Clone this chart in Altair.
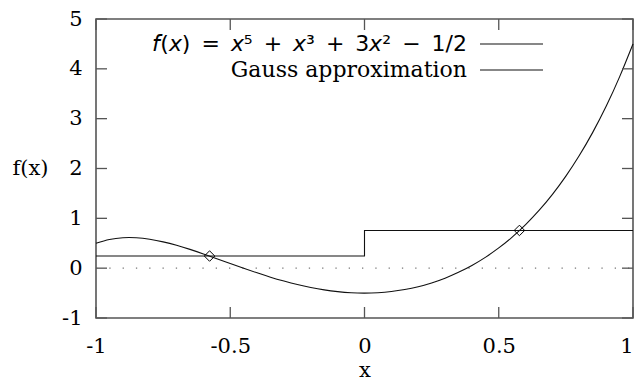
import altair as alt
import pandas as pd

# ---- data ----
curve_x = [-1.0, -0.95, -0.9, -0.85, -0.8, -0.75, -0.7, -0.65, -0.6, -0.55, -0.5,
           -0.45, -0.4, -0.35, -0.3, -0.25, -0.2, -0.15, -0.1, -0.05, 0.0,
           0.05, 0.1, 0.15, 0.2, 0.25, 0.3, 0.35, 0.4, 0.45, 0.5,
           0.55, 0.6, 0.65, 0.7, 0.75, 0.8, 0.85, 0.9, 0.95, 1.0]
curve_y = [0.500, 0.576, 0.611, 0.610, 0.580, 0.528, 0.459, 0.377, 0.286, 0.191, 0.094,
           -0.002, -0.094, -0.181, -0.259, -0.329, -0.388, -0.436, -0.471, -0.493, -0.500,
           -0.492, -0.469, -0.429, -0.372, -0.296, -0.201, -0.084, 0.054, 0.217, 0.406,
           0.624, 0.874, 1.158, 1.481, 1.847, 2.260, 2.725, 3.249, 3.839, 4.500]
gauss_x = [-1.0, 0.0, 1.0]
gauss_y = [0.243, 0.757, 0.757]
node_x = [-0.577, 0.577]
node_y = [0.243, 0.757]
zero_y = [0]
x_ticks = [-1, -0.5, 0, 0.5, 1]
y_ticks = [-1, 0, 1, 2, 3, 4, 5]
legend_labels = ["\U0001D627(\U0001D639)\u2002=\u2002\U0001D639\u2075\u2002+\u2002\U0001D639\u00B3\u2002+\u20023\U0001D639\u00B2\u2002\u2212\u20021/2",
                 "Gauss approximation"]

W, H = 537, 299
SERIF = "DejaVu Serif"
SANS = "DejaVu Sans"
BORDER = "#555555"

xs = alt.Scale(domain=[-1, 1], nice=False, zero=False)
ys = alt.Scale(domain=[-1, 5], nice=False, zero=False)

xaxis = alt.Axis(values=x_ticks, labelExpr="'' + datum.value", title="x",
                 domain=False, ticks=False, grid=False, labelFlush=False, labelOverlap=False,
                 labelAlign={"expr": "datum.value == 1 ? 'right' : 'center'"},
                 labelFont=SERIF, labelFontSize=21, labelColor="black", labelPadding=17,
                 titleFont=SERIF, titleFontSize=21, titleFontWeight="normal", titleColor="black",
                 titleX=W / 2, titleY=62, titleAlign="center", titleBaseline="bottom")
yaxis = alt.Axis(values=y_ticks, labelExpr="'' + datum.value", title="f(x)",
                 domain=False, ticks=False, grid=False, labelFlush=False, labelOverlap=False,
                 labelFont=SERIF, labelFontSize=21, labelColor="black", labelPadding=14,
                 titleFont=SERIF, titleFontSize=21, titleFontWeight="normal", titleColor="black",
                 titleAngle=0, titleX=-66, titleY=149, titleAlign="center", titleBaseline="middle")

curve_df = pd.DataFrame({"x": curve_x, "y": curve_y})
gauss_df = pd.DataFrame({"x": gauss_x, "y": gauss_y})
node_df = pd.DataFrame({"x": node_x, "y": node_y})
zero_df = pd.DataFrame({"y": zero_y})
xt_df = pd.DataFrame({"x": x_ticks})
yt_df = pd.DataFrame({"y": y_ticks})
leg1_df = pd.DataFrame({"label": [legend_labels[0]]})
leg2_df = pd.DataFrame({"label": [legend_labels[1]]})

curve = alt.Chart(curve_df).mark_line(color="#111111", strokeWidth=1.1, interpolate="natural").encode(
    x=alt.X("x:Q", scale=xs, axis=xaxis), y=alt.Y("y:Q", scale=ys, axis=yaxis))

gauss = alt.Chart(gauss_df).mark_line(color="#111111", strokeWidth=1.1, interpolate="step-after").encode(
    x=alt.X("x:Q", scale=xs, axis=xaxis), y=alt.Y("y:Q", scale=ys, axis=yaxis))

zero = alt.Chart(zero_df).mark_rule(color="#777777", strokeWidth=1.3, strokeDash=[1.3, 12.0]).encode(
    y=alt.Y("y:Q", scale=ys, axis=yaxis), x=alt.value(0), x2=alt.value(W))

nodes = alt.Chart(node_df).mark_point(shape="diamond", filled=False, size=110, color="black",
                                      strokeWidth=1, opacity=1).encode(
    x=alt.X("x:Q", scale=xs, axis=xaxis), y=alt.Y("y:Q", scale=ys, axis=yaxis))

tick_style = dict(color=BORDER, strokeWidth=1.3)
xt_bottom = alt.Chart(xt_df).mark_rule(**tick_style).encode(
    x=alt.X("x:Q", scale=xs, axis=xaxis), y=alt.value(H), y2=alt.value(H - 11))
xt_top = alt.Chart(xt_df).mark_rule(**tick_style).encode(
    x=alt.X("x:Q", scale=xs, axis=xaxis), y=alt.value(0), y2=alt.value(11))
yt_left = alt.Chart(yt_df).mark_rule(**tick_style).encode(
    y=alt.Y("y:Q", scale=ys, axis=yaxis), x=alt.value(0), x2=alt.value(11))
yt_right = alt.Chart(yt_df).mark_rule(**tick_style).encode(
    y=alt.Y("y:Q", scale=ys, axis=yaxis), x=alt.value(W), x2=alt.value(W - 11))

leg1_text = alt.Chart(leg1_df).mark_text(font=SANS, fontSize=22, align="right", baseline="middle",
                                          color="black").encode(
    text="label:N", x=alt.value(371), y=alt.value(25))
leg2_text = alt.Chart(leg2_df).mark_text(font=SERIF, fontSize=22, align="right", baseline="middle",
                                          color="black").encode(
    text="label:N", x=alt.value(371), y=alt.value(51))
leg1_line = alt.Chart(leg1_df).mark_rule(color="#111111", strokeWidth=1.1).encode(
    x=alt.value(384), x2=alt.value(447), y=alt.value(25))
leg2_line = alt.Chart(leg2_df).mark_rule(color="#111111", strokeWidth=1.1).encode(
    x=alt.value(384), x2=alt.value(447), y=alt.value(51))

chart = alt.layer(
    zero, gauss, curve, nodes, xt_bottom, xt_top, yt_left, yt_right,
    leg1_text, leg2_text, leg1_line, leg2_line
).properties(
    width=W, height=H,
    autosize=alt.AutoSizeParams(type="none"),
    padding={"left": 88, "top": 11, "right": 1, "bottom": 64},
    background="white",
).configure_view(stroke=BORDER, strokeWidth=1.6)

chart.save("out.html", embed_options={"renderer": "svg", "actions": False})
